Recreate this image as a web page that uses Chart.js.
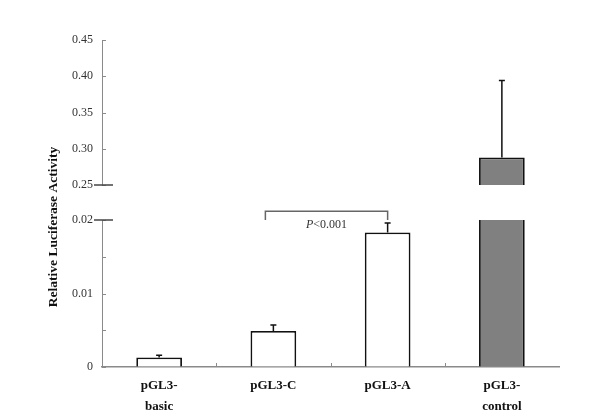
<!DOCTYPE html>
<html>
<head>
<meta charset="utf-8">
<script src="https://cdn.jsdelivr.net/npm/chart.js@4.4.1/dist/chart.umd.min.js"></script>
<style>
  html, body { margin: 0; background: #fff; }
  #wrap { width: 600px; height: 416px; }
</style>
</head>
<body>
<div id="wrap"><canvas id="chart"></canvas></div>
<script>
// data
const categories = [['pGL3-', 'basic'], 'pGL3-C', 'pGL3-A', ['pGL3-', 'control']];
const means = [0.0013, 0.0049, 0.0183, 0.288];
const errors = [0.0003, 0.0008, 0.0013, 0.106];
const barColors = ['#ffffff', '#ffffff', '#ffffff', '#808080'];

// broken y axis: two ranges
const lowRange = [0, 0.02];
const highRange = [0.25, 0.45];
const lowTicks = [0, 0.005, 0.01, 0.015, 0.02];
const lowLabels = [0, 0.01, 0.02];
const highTicks = [0.25, 0.30, 0.35, 0.40, 0.45];

// significance bracket between pGL3-C and pGL3-A
const bracketFrom = 0.93;
const bracketTo = 2;
const bracketTop = 0.0212;
const bracketFoot = 0.02;
const bracketText = ['P', '<0.001'];
const bracketTextY = 0.0193;

const serif = 'Liberation Serif';
const axisGrey = '#8a8a8a';

const lowData = means.map(v => Math.min(v, lowRange[1]));
const highData = means.map(v => v > highRange[0] ? [highRange[0], v] : null);

function yScale(range, ticks, weight, stackWeight, labelFn) {
    return {
        type: 'linear',
        position: 'left',
        stack: 'y',
        stackWeight: stackWeight,
        weight: weight,
        min: range[0],
        max: range[1],
        afterBuildTicks: s => { s.ticks = ticks.map(v => ({ value: v })); },
        afterFit: s => { s.width = 102; },
        grid: { drawOnChartArea: false, drawTicks: false },
        border: { color: axisGrey, width: 1 },
        ticks: {
            padding: 9,
            color: '#333',
            font: { family: serif, size: 12 },
            callback: labelFn
        }
    };
}

const extras = {
    id: 'extras',
    afterDatasetsDraw(chart) {
        const ctx = chart.ctx;
        const x = chart.scales.x;
        const yLow = chart.scales.yLow;
        const yHigh = chart.scales.yHigh;
        const left = chart.chartArea.left;
        ctx.save();

        // inward tick marks on the y axes
        ctx.strokeStyle = axisGrey;
        ctx.lineWidth = 1;
        [[yHigh, highTicks], [yLow, lowTicks]].forEach(([s, t]) => {
            t.forEach(v => {
                const py = Math.round(s.getPixelForValue(v)) + 0.5;
                ctx.beginPath();
                ctx.moveTo(left, py);
                ctx.lineTo(left + 4, py);
                ctx.stroke();
            });
        });
        // axis break marks
        ctx.strokeStyle = '#444';
        ctx.lineWidth = 1.5;
        [yHigh.getPixelForValue(highRange[0]), yLow.getPixelForValue(lowRange[1])].forEach(py => {
            ctx.beginPath();
            ctx.moveTo(left - 8, py);
            ctx.lineTo(left + 11, py);
            ctx.stroke();
        });
        // inward tick marks on the x axis between categories
        ctx.strokeStyle = axisGrey;
        ctx.lineWidth = 1;
        const bottom = chart.chartArea.bottom;
        for (let i = 1; i < categories.length; i++) {
            const px = Math.round((x.getPixelForValue(i - 1) + x.getPixelForValue(i)) / 2) + 0.5;
            ctx.beginPath();
            ctx.moveTo(px, bottom);
            ctx.lineTo(px, bottom - 4);
            ctx.stroke();
        }

        // error bars (upper side only)
        ctx.strokeStyle = '#111';
        ctx.lineWidth = 1.5;
        means.forEach((m, i) => {
            const s = m > highRange[0] ? yHigh : yLow;
            const px = x.getPixelForValue(i);
            const y0 = s.getPixelForValue(m);
            const y1 = s.getPixelForValue(m + errors[i]);
            ctx.beginPath();
            ctx.moveTo(px, y0);
            ctx.lineTo(px, y1);
            ctx.moveTo(px - 3, y1);
            ctx.lineTo(px + 3, y1);
            ctx.stroke();
        });

        // significance bracket
        const bx0 = x.getPixelForValue(bracketFrom);
        const bx1 = x.getPixelForValue(bracketTo);
        const by = yLow.getPixelForValue(bracketTop);
        const bf = yLow.getPixelForValue(bracketFoot);
        ctx.strokeStyle = '#666';
        ctx.lineWidth = 1.5;
        ctx.beginPath();
        ctx.moveTo(bx0, bf);
        ctx.lineTo(bx0, by);
        ctx.lineTo(bx1, by);
        ctx.lineTo(bx1, bf);
        ctx.stroke();

        ctx.fillStyle = '#333';
        ctx.textBaseline = 'middle';
        const ty = yLow.getPixelForValue(bracketTextY);
        ctx.font = 'italic 12px "' + serif + '"';
        const w0 = ctx.measureText(bracketText[0]).width;
        ctx.font = '12px "' + serif + '"';
        const w1 = ctx.measureText(bracketText[1]).width;
        let tx = (bx0 + bx1) / 2 - (w0 + w1) / 2;
        ctx.textAlign = 'left';
        ctx.font = 'italic 12px "' + serif + '"';
        ctx.fillText(bracketText[0], tx, ty);
        ctx.font = '12px "' + serif + '"';
        ctx.fillText(bracketText[1], tx + w0, ty);

        // y axis title spanning both segments
        ctx.translate(57, 227);
        ctx.rotate(-Math.PI / 2);
        ctx.textAlign = 'center';
        ctx.textBaseline = 'alphabetic';
        ctx.fillStyle = '#111';
        ctx.font = 'bold 13.5px "' + serif + '"';
        ctx.fillText('Relative Luciferase Activity', 0, 0);
        ctx.restore();
    }
};

new Chart(document.getElementById('chart'), {
    type: 'bar',
    data: {
        labels: categories,
        datasets: [
            {
                data: lowData,
                yAxisID: 'yLow',
                grouped: false,
                backgroundColor: barColors,
                borderColor: '#111',
                borderWidth: ctx => means[ctx.dataIndex] > lowRange[1]
                    ? { top: 0, left: 1.8, right: 1.8, bottom: 0 } : 1.8,
                borderSkipped: 'bottom',
                barPercentage: 0.4,
                categoryPercentage: 1
            },
            {
                data: highData,
                yAxisID: 'yHigh',
                grouped: false,
                backgroundColor: barColors,
                borderColor: '#111',
                borderWidth: 1.8,
                borderSkipped: 'bottom',
                barPercentage: 0.4,
                categoryPercentage: 1
            }
        ]
    },
    options: {
        responsive: true,
        maintainAspectRatio: false,
        animation: false,
        layout: { padding: { top: 40, right: 41, bottom: 0, left: 0 } },
        scales: {
            x: {
                type: 'category',
                offset: true,
                afterFit: s => { s.height = 49; },
                grid: { display: false, drawTicks: false },
                border: { color: axisGrey, width: 1.5 },
                ticks: {
                    padding: 8,
                    color: '#111',
                    maxRotation: 0,
                    font: { family: serif, size: 13, weight: 'bold', lineHeight: 1.6 }
                }
            },
            yHigh: yScale(highRange, highTicks, 3, 145, v => v.toFixed(2)),
            yGap: {
                type: 'linear',
                position: 'left',
                stack: 'y',
                stackWeight: 35,
                weight: 2,
                min: 0,
                max: 1,
                afterFit: s => { s.width = 102; },
                grid: { display: false, drawTicks: false },
                border: { display: false },
                ticks: { display: false }
            },
            yLow: yScale(lowRange, lowTicks, 1, 147,
                v => lowLabels.includes(v) ? (v === 0 ? '0' : v.toFixed(2)) : '')
        },
        plugins: {
            legend: { display: false },
            tooltip: { enabled: false }
        }
    },
    plugins: [extras]
});
</script>
</body>
</html>
